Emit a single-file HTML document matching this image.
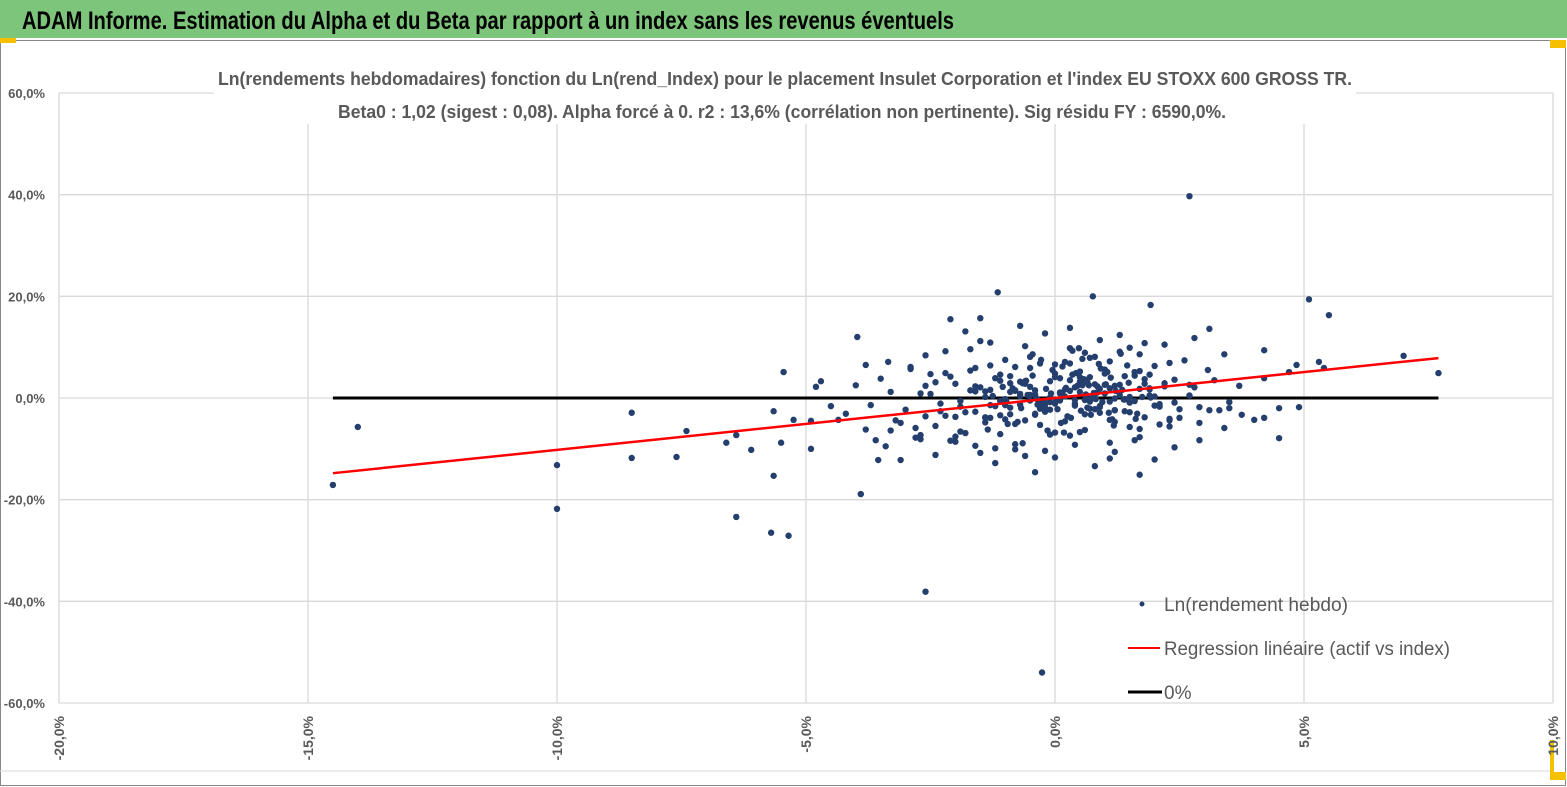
<!DOCTYPE html>
<html><head><meta charset="utf-8"><style>
html,body{margin:0;padding:0;background:#fff;}
svg{display:block;font-family:"Liberation Sans",sans-serif;}
</style></head><body>
<svg width="1567" height="787" viewBox="0 0 1567 787" id="svg">
<rect x="0" y="0" width="1567" height="787" fill="#fff"/>
<rect x="0" y="0" width="1567" height="38" fill="#7dc57b"/>
<text x="22" y="29" font-size="25" font-weight="bold" fill="#000" textLength="932" lengthAdjust="spacingAndGlyphs">ADAM Informe. Estimation du Alpha et du Beta par rapport à un index sans les revenus éventuels</text>
<rect x="0.5" y="40.5" width="1565" height="745" fill="none" stroke="#888" stroke-width="1"/>
<line x1="0" y1="771" x2="1553" y2="771" stroke="#d9d9d9"/>
<rect x="0" y="38" width="16" height="5" fill="#f5c000"/>
<rect x="1550" y="40" width="16" height="8" fill="#f5c000"/>
<rect x="1550" y="740" width="4" height="40" fill="#f5c000"/>
<rect x="1550" y="772" width="16" height="8" fill="#f5c000"/>
<g id="grid"></g>
<g id="axes"></g>
<line id="zeroLine" stroke="#000" stroke-width="3"/>
<g id="pts" fill="#243f6e"></g>
<line id="regLine" stroke="#ff0000" stroke-width="2.5"/>
<rect x="214" y="62" width="1142" height="62" fill="#fff"/>
<text x="785" y="85" text-anchor="middle" font-size="18" font-weight="bold" fill="#595959" textLength="1134" lengthAdjust="spacingAndGlyphs">Ln(rendements hebdomadaires) fonction du Ln(rend_Index) pour le placement Insulet Corporation et l'index EU  STOXX 600 GROSS TR.</text>
<text x="782" y="118" text-anchor="middle" font-size="18" font-weight="bold" fill="#595959" textLength="888" lengthAdjust="spacingAndGlyphs">Beta0 : 1,02 (sigest : 0,08).  Alpha forcé à 0. r2 : 13,6% (corrélation non pertinente). Sig résidu FY : 6590,0%.</text>
<g>
<circle cx="1142" cy="604" r="2.5" fill="#243f6e"/>
<text x="1164" y="611" font-size="19" fill="#595959" textLength="184" lengthAdjust="spacingAndGlyphs">Ln(rendement hebdo)</text>
<line x1="1128" y1="648" x2="1160" y2="648" stroke="#ff0000" stroke-width="2"/>
<text x="1164" y="655" font-size="19" fill="#595959" textLength="286" lengthAdjust="spacingAndGlyphs">Regression linéaire (actif vs index)</text>
<line x1="1128" y1="692" x2="1162" y2="692" stroke="#000" stroke-width="3"/>
<text x="1164" y="699" font-size="19" fill="#595959">0%</text>
</g>
</svg>
<script>
const xTicks=[-20,-15,-10,-5,0,5,10];
const xTickLabels=["-20,0%","-15,0%","-10,0%","-5,0%","0,0%","5,0%","10,0%"];
const yTicks=[60,40,20,0,-20,-40,-60];
const yTickLabels=["60,0%","40,0%","20,0%","0,0%","-20,0%","-40,0%","-60,0%"];
const beta=1.02;
const lineRange=[-14.5,7.7];
const ptX=[-14.5,-14,-10,-10,-8.5,-8.5,-7.6,-7.4,-6.6,-6.4,-6.4,-6.1,-5.7,-5.65,-5.65,-5.5,-5.45,-5.35,-5.25,-4.9,-4.9,-4.8,-4.7,-4.5,-4.35,-3.97,-3.9,-3.8,-3.6,-3.55,-3.35,-3.1,-2.6,-2.6,-2.1,-1.5,-1.15,-0.45,-0.26,0.76,1.92,1.7,2.7,3.1,5.1,5.5,4.5,4.5,4.9,4.85,4.7,5.3,5.4,7.0,7.7,4.2,4.2,4.2,4.0,3.75,3.5,3.7,3.5,3.3,3.4,3.07,2.9,3.1,3.2,
-4.2,-4.0,-3.8,-3.7,-3.5,-3.4,-3.3,-3.2,-3.0,-2.9,-2.8,-2.7,-2.6,-2.5,-2.4,-2.3,-2.2,-2.1,-2.0,-1.9,-1.8,-1.7,-1.6,-1.5,-1.4,-1.3,-1.2,-1.1,-1.0,-0.9,-0.8,-0.7,-0.6,-0.5,-0.4,-0.3,-0.2,-0.1,0.0,0.1,0.2,0.3,0.4,0.5,0.6,0.7,0.8,0.9,1.0,1.1,1.2,1.3,1.4,1.5,1.6,1.7,1.8,1.9,2.0,2.1,2.2,2.3,2.4,2.5,2.6,2.7,2.8,
-3.1,-2.9,-2.7,-2.5,-2.3,-2.1,-1.9,-1.7,-1.5,-1.3,-1.1,-0.9,-0.7,-0.5,-0.3,-0.1,0.1,0.3,0.5,0.7,0.9,1.1,1.3,1.5,1.7,1.9,2.1,2.3,2.5,2.7,2.9,
-2.8,-2.4,-2.0,-1.6,-1.2,-0.8,-0.4,0.0,0.4,0.8,1.2,1.6,2.0,2.4,
-2.2,-1.8,-1.4,-1.0,-0.6,-0.2,0.2,0.6,1.0,1.4,1.8,2.2,
-1.9,-1.3,-0.9,-0.5,-0.1,0.3,0.7,1.1,1.5,1.9,
-1.6,-1.0,-0.6,-0.2,0.2,0.6,1.0,1.4,
-1.4,-0.8,-0.3,0.1,0.5,0.9,1.3,1.7,
-1.1,-0.7,-0.4,0.0,0.4,0.8,1.2,
-0.9,-0.5,-0.1,0.3,0.7,1.1,0.55,0.85,0.35,0.65,0.15,-0.35,-0.65,
-2.4,-2.0,-1.6,-1.2,-0.8,-0.4,0.0,0.4,0.8,1.2,1.6,2.0,2.4,2.8,
-1.8,-1.3,-0.7,-0.2,0.3,0.9,1.5,2.1,
-2.6,-2.2,-1.7,-1.1,-0.6,0.0,0.6,1.2,1.8,2.3,2.9,3.4,
-3.3,-2.7,-2.0,-1.4,-0.8,-0.2,0.5,1.1,1.7,2.3,3.0];
const ptY=[-17.1,-5.7,-21.8,-13.2,-2.9,-11.8,-11.6,-6.5,-8.8,-23.4,-7.3,-10.2,-26.5,-15.3,-2.6,-8.8,5.1,-27.1,-4.3,-4.5,-10,2.2,3.3,-1.6,-4.3,12,-18.9,6.5,-8.3,-12.2,7.1,-12.2,2.4,-38.1,15.5,15.7,20.8,8.6,-54,20,18.3,-15.1,39.7,13.6,19.4,16.3,-2,-7.9,-1.8,6.5,5.1,7.1,5.9,8.3,4.9,3.9,9.4,-3.9,-4.3,-3.3,-0.8,2.4,-2,-2.4,8.6,5.5,-8.3,-2.4,3.5,
-3.1,2.5,-6.2,-1.4,3.8,-9.5,1.2,-4.4,-2.3,6.1,-7.8,0.9,-3.6,4.7,-5.5,-1.1,9.2,-8.4,2.8,-0.6,-6.9,5.4,-2.7,11.2,-4.8,1.6,-9.9,3.4,7.5,-1.9,-5.1,0.4,-11.4,2.2,-3.3,6.8,-0.9,-7.2,4.1,1.1,-4.6,9.8,-1.5,3.2,-6.3,7.9,0.7,-2.9,5.6,-8.8,2.4,12.4,-0.3,-5.7,4.4,8.6,-3.8,1.9,6.3,-1.2,10.5,-4.1,3.6,-2.2,7.4,0.5,
2.1,-4.9,5.7,-8.1,0.8,-2.6,4.2,-6.6,1.5,-10.8,6.4,-3.4,2.9,-1.3,8.1,-5.3,-0.8,3.9,-7.4,5.2,-2.1,1.8,-4.3,9.1,0.2,-6.1,4.6,-1.7,6.9,-3.9,2.6,
-1.8,-5.9,3.1,-3.7,5.9,-1.6,1.4,-3.1,6.6,-0.4,2.7,-2.4,5.1,0.3,
-0.9,4.9,-2.8,1.3,-4.2,3.3,-1.2,7.1,-3.2,4.8,-0.2,3.7,
2.9,-1.7,-3.9,4.3,0.6,-2.3,3.5,-0.7,1.9,-2.8,
0.5,2.3,-1.4,2.8,-1.9,1.7,-0.4,2.6,
-2.6,0.2,1.5,-0.9,0.9,4.1,-1.6,0.6,
1.8,-0.6,3.2,0.7,-1.1,2.1,-2.2,
-0.1,1.2,-0.5,0.1,1.4,0.3,-0.7,2.5,2.3,4.6,-1.9,0.8,-1.3,
-8.9,-11.2,-7.6,-9.4,-12.8,-10.1,-14.6,-11.7,-9.2,-13.4,-10.6,-8.3,-12.1,-9.7,
11.8,13.1,10.9,14.2,12.7,13.8,11.4,9.9,
-5.2,8.4,-3.5,9.6,-7.1,10.2,-6.8,8.9,-4.7,10.8,-5.6,-4.9,
-5.9,-6.4,-7.3,-8.6,-3.9,-9.1,-10.4,-6.7,-11.9,-7.7,-4.4];
const clusterX=[-1.5,-1.3,-1.1,-0.9,-0.7,-0.5,-0.3,-0.1,0.1,0.3,
0.5,0.7,0.9,1.1,1.3,1.5,1.7,1.9,-1.4,-1.2,
-1.0,-0.8,-0.6,-0.4,-0.2,0.0,0.2,0.4,0.6,0.8,
1.0,1.2,1.4,1.6,1.8,2.0,-1.25,-0.95,-0.65,-0.35,
-0.05,0.25,0.55,0.85,1.15,1.45,1.75,-0.85,-0.45,0.05,
0.45,0.95,1.35,1.65,0.15,0.65,1.05,-0.25,0.35,0.75,
-1.6,-1.35,-1.05,-0.75,-0.55,-0.15,0.12,0.42,0.72,1.02,
1.32,1.62,1.92,2.2,-0.98,-0.58,-0.18,0.22,0.62,1.08,
1.48,0.02,0.52,0.92,1.22,-0.68,-0.28,0.32,0.82,1.12,
0.58,0.88,0.18,-0.38,1.38,0.48,0.78,1.18,-0.08,0.68];
const clusterY=[2.1,-1.4,4.6,-3.2,0.8,5.9,-2.1,3.3,-0.5,6.8,
1.2,4.1,-1.8,7.2,2.6,-0.9,5.3,1.7,-3.8,3.9,
-0.2,6.1,-4.4,1.5,-2.7,4.8,0.3,-1.1,3.6,8.1,
0.9,-2.4,4.3,-0.6,2.8,-1.5,0.4,-5.1,2.9,-0.3,
5.5,-3.6,7.7,1.1,-4.2,6.4,0.2,1.9,4.4,-2.2,
2.4,-0.8,1.6,-3.1,6.2,3.1,5.1,-1.6,9.3,-0.1,
1.3,-6.2,2.2,-4.7,0.6,-6.4,-4.9,4.9,-3.3,2.7,
8.7,-4.1,0.1,2.3,-0.7,3.4,1.8,2.0,0.7,-2.9,
3.0,-0.4,-2.5,5.8,1.4,-2.0,7.5,-3.9,-0.2,4.0,
3.7,6.7,-6.8,0.0,-0.3,9.8,1.0,-5.4,0.9,2.5];
const X0=59,X1=1553,XMIN=-20,XMAX=10,Y0=93,Y1=703,YMAX=60,YMIN=-60;
const sx=v=>X0+(v-XMIN)/(XMAX-XMIN)*(X1-X0);
const sy=v=>Y0+(YMAX-v)/(YMAX-YMIN)*(Y1-Y0);
const NS="http://www.w3.org/2000/svg";
const grid=document.getElementById('grid'),axes=document.getElementById('axes'),pts=document.getElementById('pts');
function mk(tag,attrs,parent){const e=document.createElementNS(NS,tag);for(const k in attrs)e.setAttribute(k,attrs[k]);parent.appendChild(e);return e;}
yTicks.forEach((t,i)=>{
  const g=mk('line',{x1:X0,x2:X1,y1:sy(t),y2:sy(t),stroke:'#d9d9d9','stroke-width':1.3},grid);
  
  
  const l=mk('text',{x:45,y:sy(t)+5,'text-anchor':'end','font-size':13,'font-weight':'bold',fill:'#595959'},axes);
  l.textContent=yTickLabels[i];
  
  
});
xTicks.forEach((t,i)=>{
  const g=mk('line',{x1:sx(t),x2:sx(t),y1:Y0,y2:Y1,stroke:'#d9d9d9','stroke-width':1.3},grid);
  
  
  const l=mk('text',{x:0,y:0,'text-anchor':'end','font-size':14,'font-weight':'bold',fill:'#595959',transform:`translate(${sx(t)+5},716) rotate(-90)`},axes);
  l.textContent=xTickLabels[i];
  
  
});
const z=document.getElementById('zeroLine');
z.setAttribute('x1',sx(lineRange[0]));z.setAttribute('x2',sx(lineRange[1]));z.setAttribute('y1',sy(0));z.setAttribute('y2',sy(0));
const r=document.getElementById('regLine');
r.setAttribute('x1',sx(lineRange[0]));r.setAttribute('x2',sx(lineRange[1]));r.setAttribute('y1',sy(beta*lineRange[0]));r.setAttribute('y2',sy(beta*lineRange[1]));
function drawPts(xs,ys){
  const n=Math.min(xs.length,ys.length);
  for(let i=0;i<n;i++){
    const c=mk('circle',{cx:sx(xs[i]),cy:sy(ys[i]),r:3.2},pts);
    
    
  }
}
drawPts(ptX,ptY);
drawPts(clusterX,clusterY);
</script>
</body></html>
